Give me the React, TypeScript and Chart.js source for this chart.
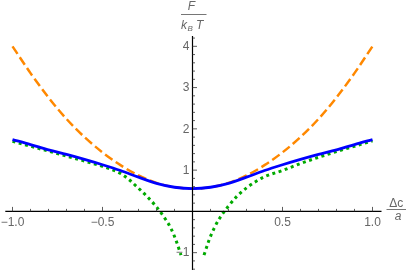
import React, { useEffect, useRef } from "react";
import { Chart, registerables } from "chart.js";

Chart.register(...registerables);

// ---- data ----
const xGrid = [-1, -0.9, -0.8, -0.7, -0.6, -0.5, -0.4, -0.3, -0.2, -0.1, 0, 0.1, 0.2, 0.3, 0.4, 0.5, 0.6, 0.7, 0.8, 0.9, 1];
const orangeValues = [4.0, 3.35, 2.76, 2.24, 1.8, 1.43, 1.12, 0.87, 0.69, 0.585, 0.55, 0.585, 0.69, 0.87, 1.12, 1.43, 1.8, 2.24, 2.76, 3.35, 4.0];
const blueValues = [1.74, 1.62, 1.49, 1.38, 1.26, 1.13, 0.99, 0.83, 0.68, 0.585, 0.55, 0.585, 0.68, 0.83, 0.99, 1.13, 1.26, 1.38, 1.49, 1.62, 1.74];
const greenLeftX = [-1, -0.9, -0.8, -0.7, -0.6, -0.5, -0.4, -0.35, -0.3, -0.25, -0.2, -0.15, -0.12, -0.09, -0.064];
const greenLeftValues = [1.7, 1.58, 1.46, 1.34, 1.22, 1.09, 0.92, 0.76, 0.56, 0.35, 0.11, -0.19, -0.41, -0.72, -1.06];
const greenRightX = [0.064, 0.09, 0.12, 0.15, 0.2, 0.25, 0.3, 0.35, 0.4, 0.5, 0.6, 0.7, 0.8, 0.9, 1.0];
const greenRightValues = [-1.06, -0.72, -0.41, -0.17, 0.13, 0.38, 0.57, 0.72, 0.84, 0.99, 1.16, 1.31, 1.45, 1.58, 1.71];

const xTickValues = [-1, -0.5, 0.5, 1];
const xTickLabels = ["\u22121.0", "\u22120.5", "0.5", "1.0"];
const yTickValues = [-1, 1, 2, 3, 4];
const yTickLabels = ["\u22121", "1", "2", "3", "4"];
const xMinorTicks = [-0.9, -0.8, -0.7, -0.6, -0.4, -0.3, -0.2, -0.1, 0.1, 0.2, 0.3, 0.4, 0.6, 0.7, 0.8, 0.9];
const yMinorTicks = [-1.4, -1.2, -0.8, -0.6, -0.4, -0.2, 0.2, 0.4, 0.6, 0.8, 1.2, 1.4, 1.6, 1.8, 2.2, 2.4, 2.6, 2.8, 3.2, 3.4, 3.6, 3.8, 4.2];

const X_MIN = -1.04;
const X_MAX = 1.05;
const Y_MIN = -1.42;
const Y_MAX = 4.25;

const FONT = '"Liberation Sans", Arial, sans-serif';
const LABEL_GRAY = "#666666";

const axesPlugin = {
  id: "mmaAxes",
  afterDatasetsDraw(chart: any) {
    const { ctx, chartArea: ca } = chart;
    const xs = chart.scales.x;
    const ys = chart.scales.y;
    const x0 = xs.getPixelForValue(0);
    const y0 = ys.getPixelForValue(0);
    ctx.save();
    // axis lines
    ctx.strokeStyle = "#000";
    ctx.lineWidth = 1.2;
    ctx.beginPath();
    ctx.moveTo(ca.left, y0);
    ctx.lineTo(ca.right, y0);
    ctx.stroke();
    ctx.beginPath();
    ctx.moveTo(x0, ca.top);
    ctx.lineTo(x0, ca.bottom);
    ctx.stroke();
    // ticks
    ctx.strokeStyle = "#333";
    ctx.lineWidth = 0.8;
    ctx.beginPath();
    for (const v of xMinorTicks) {
      const p = xs.getPixelForValue(v);
      ctx.moveTo(p, y0);
      ctx.lineTo(p, y0 - 2.5);
    }
    for (const v of xTickValues) {
      const p = xs.getPixelForValue(v);
      ctx.moveTo(p, y0);
      ctx.lineTo(p, y0 - 4.5);
    }
    for (const v of yMinorTicks) {
      const p = ys.getPixelForValue(v);
      ctx.moveTo(x0, p);
      ctx.lineTo(x0 + 2.5, p);
    }
    for (const v of yTickValues) {
      const p = ys.getPixelForValue(v);
      ctx.moveTo(x0, p);
      ctx.lineTo(x0 + 4.5, p);
    }
    ctx.stroke();
    // tick labels
    ctx.fillStyle = LABEL_GRAY;
    ctx.font = `12px ${FONT}`;
    ctx.textAlign = "center";
    ctx.textBaseline = "middle";
    xTickValues.forEach((v, i) => {
      ctx.fillText(xTickLabels[i], xs.getPixelForValue(v), y0 + 11.5);
    });
    ctx.textAlign = "right";
    yTickValues.forEach((v, i) => {
      ctx.fillText(yTickLabels[i], x0 - 3, ys.getPixelForValue(v) + 0.5);
    });
    // y axis title: F / (k_B T)
    ctx.textBaseline = "alphabetic";
    ctx.textAlign = "center";
    ctx.font = `italic 12px ${FONT}`;
    ctx.fillText("F", 191.5, 10);
    ctx.strokeStyle = LABEL_GRAY;
    ctx.lineWidth = 0.9;
    ctx.beginPath();
    ctx.moveTo(181, 14.5);
    ctx.lineTo(206.5, 14.5);
    ctx.stroke();
    ctx.textAlign = "left";
    ctx.fillText("k", 181, 29);
    ctx.font = `italic 8px ${FONT}`;
    ctx.fillText("B", 187.5, 31);
    ctx.font = `italic 12px ${FONT}`;
    ctx.fillText("T", 196, 29);
    // x axis title: Δc / a
    ctx.font = `12px ${FONT}`;
    ctx.textAlign = "center";
    ctx.fillText("\u0394c", 396.3, 206.5);
    ctx.beginPath();
    ctx.moveTo(386.5, 209.5);
    ctx.lineTo(406, 209.5);
    ctx.stroke();
    ctx.font = `italic 12px ${FONT}`;
    ctx.fillText("a", 398, 219.5);
    ctx.restore();
  },
};

function pts(xv: number[], yv: number[]) {
  return xv.map((x, i) => ({ x, y: yv[i] }));
}

export default function App() {
  const ref = useRef<HTMLCanvasElement | null>(null);
  useEffect(() => {
    if (!ref.current) return;
    const greenData = [
      ...pts(greenLeftX, greenLeftValues),
      { x: 0, y: null as any },
      ...pts(greenRightX, greenRightValues),
    ];
    const chart = new Chart(ref.current, {
      type: "line",
      data: {
        datasets: [
          {
            label: "exact",
            data: pts(xGrid, blueValues),
            borderColor: "#0000ff",
            borderWidth: 2.8,
            pointRadius: 0,
            cubicInterpolationMode: "monotone",
            fill: false,
          },
          {
            label: "large",
            data: greenData,
            borderColor: "rgb(0,170,0)",
            borderWidth: 3,
            borderDash: [3, 3.5],
            borderCapStyle: "butt",
            pointRadius: 0,
            spanGaps: false,
            cubicInterpolationMode: "monotone",
            fill: false,
          },
          {
            label: "small",
            data: pts(xGrid, orangeValues),
            borderColor: "rgb(255,136,0)",
            borderWidth: 2.5,
            borderDash: [9, 4],
            borderCapStyle: "butt",
            pointRadius: 0,
            cubicInterpolationMode: "monotone",
            fill: false,
          },
        ],
      } as any,
      options: {
        animation: false,
        responsive: false,
        devicePixelRatio: 1,
        layout: { padding: { left: 5.3, top: 36, right: 25.5, bottom: 0 } },
        plugins: { legend: { display: false }, tooltip: { enabled: false } },
        events: [],
        scales: {
          x: { type: "linear", min: X_MIN, max: X_MAX, display: false },
          y: { type: "linear", min: Y_MIN, max: Y_MAX, display: false },
        },
      } as any,
      plugins: [axesPlugin],
    });
    return () => chart.destroy();
  }, []);
  return (
    <div style={{ position: "fixed", left: 0, top: 0, width: 407, height: 270, background: "#fff" }}>
      <canvas ref={ref} width={407} height={270} style={{ display: "block" }} />
    </div>
  );
}
